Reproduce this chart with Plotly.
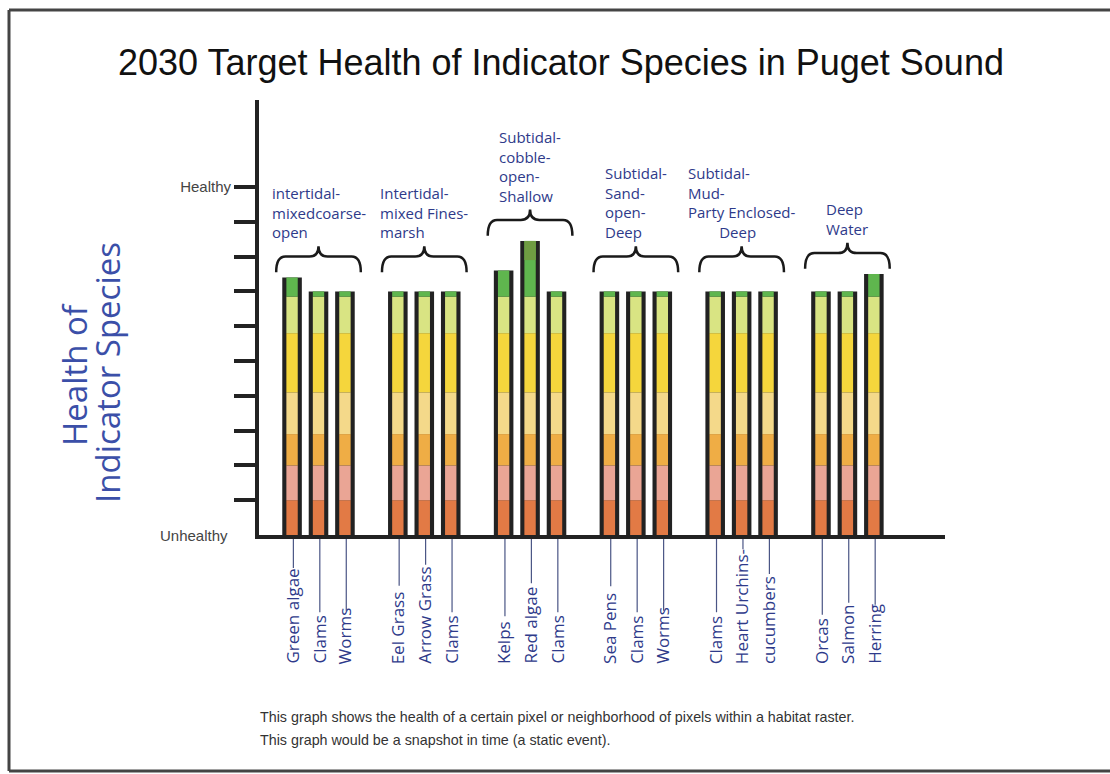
import plotly.graph_objects as go

# habitat groups (handwritten labels above each brace)
habitats = ["intertidal-<br>mixedcoarse-<br>open",
            "Intertidal-<br>mixed Fines-<br>marsh",
            "Subtidal-<br>cobble-<br>open-<br>Shallow",
            "Subtidal-<br>Sand-<br>open-<br>Deep",
            "Subtidal-<br>Mud-<br>Party Enclosed-<br>        Deep",
            "Deep<br>Water"]
species = [["Green algae", "Clams", "Worms"],
           ["Eel Grass", "Arrow Grass", "Clams"],
           ["Kelps", "Red algae", "Clams"],
           ["Sea Pens", "Clams", "Worms"],
           ["Clams", "Heart Urchins-", "cucumbers"],
           ["Orcas", "Salmon", "Herring"]]
health = [[7.4, 7.0, 7.0],
          [7.0, 7.0, 7.0],
          [7.6, 8.45, 7.0],
          [7.0, 7.0, 7.0],
          [7.0, 7.0, 7.0],
          [7.0, 7.0, 7.5]]
band_edges = [0, 1.0, 2.0, 2.9, 4.1, 5.8, 6.85]
band_colors = ["#e27a45", "#eaa595", "#efad45", "#f4d98a", "#f5d63c", "#d9e483", "#5fb64e"]
olive_from = {"Red algae": 7.9}

# pixel frame of the plot area
L, R, T, B = 259, 945, 100, 535
W, H = 1110, 774
def px_x(px):
    return (px - L) / (R - L)
def px_y(py):
    return (B - py) / (B - T)

# rough Open Sans advance widths (em) to size the leader lines
def text_len(s, size):
    w = 0
    for ch in s:
        if ch in "ijl":
            w += 0.25
        elif ch in " ":
            w += 0.26
        elif ch in "rtf-":
            w += 0.34
        elif ch in "mw":
            w += 0.8
        elif ch.isupper():
            w += 0.64
        else:
            w += 0.56
    return w * size

pos, names, tops = [], [], []
for g, (sp, hv) in enumerate(zip(species, health)):
    for i, (s, v) in enumerate(zip(sp, hv)):
        pos.append(g * 4 + i)
        names.append(s)
        tops.append(v)

ink = "#2e3a8a"
hand = "Open Sans"

fig = go.Figure()
fig.add_trace(go.Bar(x=pos, y=tops, base=0, width=0.74, marker=dict(color="#222", line_width=0),
                     showlegend=False, hoverinfo="skip"))
for k, c in enumerate(band_colors):
    lo = band_edges[k]
    hi = [band_edges[k + 1] if k + 1 < len(band_edges) else t for t in tops]
    fig.add_trace(go.Bar(x=pos, y=[h - lo for h in hi], base=lo, width=0.43,
                         marker=dict(color=c, line_width=0), showlegend=False, hoverinfo="skip"))
ox = [p for p, n in zip(pos, names) if n in olive_from]
oy = [t for t, n in zip(tops, names) if n in olive_from]
ob = [olive_from[n] for n in names if n in olive_from]
fig.add_trace(go.Bar(x=ox, y=[t - b for t, b in zip(oy, ob)], base=ob, width=0.43,
                     marker=dict(color="#6f9c42", line_width=0), showlegend=False, hoverinfo="skip"))

shapes = []
annotations = []
# braces + habitat labels
for g, (lab, hv) in enumerate(zip(habitats, health)):
    x0 = g * 4 - 0.6
    x1 = g * 4 + 2 + 0.6
    xm = (x0 + x1) / 2
    b = max(max(hv), 7.4) + 0.15
    m = b + 0.45
    p = b + 0.75
    d = 0.35
    path = (f"M {x0},{b} Q {x0},{m} {x0 + d},{m} L {xm - d},{m} Q {xm},{m} {xm},{p} "
            f"Q {xm},{m} {xm + d},{m} L {x1 - d},{m} Q {x1},{m} {x1},{b}")
    shapes.append(dict(type="path", path=path, xref="x", yref="y",
                       line=dict(color="#1a1a1a", width=2.5)))
    annotations.append(dict(x=xm, y=p + 0.05, xref="x", yref="y", text=lab, showarrow=False,
                            xanchor="center", yanchor="bottom", align="left",
                            font=dict(family=hand, size=15, color=ink)))

# species labels with leader lines
lab_size = 17
lab_bottom = 666
for x, n in zip(pos, names):
    annotations.append(dict(x=x, y=px_y(lab_bottom), xref="x", yref="paper", text=n, showarrow=False,
                            xanchor="center", yanchor="bottom", textangle=-90,
                            font=dict(family=hand, size=lab_size, color=ink)))
    end = max(lab_bottom - text_len(n, lab_size) - 6, 546)
    shapes.append(dict(type="line", xref="x", yref="paper", x0=x + 0.05, x1=x + 0.05,
                       y0=px_y(539), y1=px_y(end), line=dict(color="#4a5585", width=1.2)))

def note(px, py, text, size, family="Liberation Sans", color="#111", angle=0, xanchor="center"):
    return dict(x=px_x(px), y=px_y(py), xref="paper", yref="paper", showarrow=False,
                xanchor=xanchor, yanchor="middle", textangle=angle, text=text,
                font=dict(family=family, size=size, color=color))

annotations += [
    note(561, 63, "2030 Target Health of Indicator Species in Puget Sound", 36),
    note(230, 535, "Unhealthy", 15, color="#444", xanchor="right"),
    note(74, 375, "Health of", 33, family=hand, color="#3b4fa8", angle=-90),
    note(108, 373, "Indicator Species", 33, family=hand, color="#3b4fa8", angle=-90),
    note(258, 717, "This graph shows the health of a certain pixel or neighborhood of pixels within a habitat raster.",
         14.3, color="#333", xanchor="left"),
    note(258, 740, "This graph would be a snapshot in time (a static event).", 14.3, color="#333", xanchor="left"),
]

# scanned page frame
frame = dict(color="#444", width=3)
shapes += [
    dict(type="line", xref="paper", yref="paper", x0=px_x(9), x1=px_x(9), y0=px_y(10), y1=px_y(771), line=frame),
    dict(type="line", xref="paper", yref="paper", x0=px_x(9), x1=px_x(W + 20), y0=px_y(10), y1=px_y(10), line=frame),
    dict(type="line", xref="paper", yref="paper", x0=px_x(9), x1=px_x(W + 20), y0=px_y(771), y1=px_y(771), line=frame),
]

fig.update_layout(
    width=W, height=H,
    margin=dict(l=L, r=W - R, t=T, b=H - B),
    paper_bgcolor="white", plot_bgcolor="white",
    barmode="overlay",
    shapes=shapes, annotations=annotations,
    xaxis=dict(range=[-1.25, 24.69], showgrid=False, zeroline=False, showticklabels=False,
               showline=True, linewidth=4, linecolor="#222", ticks=""),
    yaxis=dict(range=[0, 12.5], showgrid=False, zeroline=False, showline=True, linewidth=4,
               linecolor="#222", ticks="outside", ticklen=21, tickwidth=4, tickcolor="#222",
               tickvals=list(range(1, 11)), ticktext=[""] * 9 + ["Healthy"],
               tickfont=dict(family="Liberation Sans", size=15, color="#444")),
)

fig.write_html("out.html", config={"displayModeBar": False},
               post_script="document.body.style.margin='0';document.body.style.overflow='hidden';")
